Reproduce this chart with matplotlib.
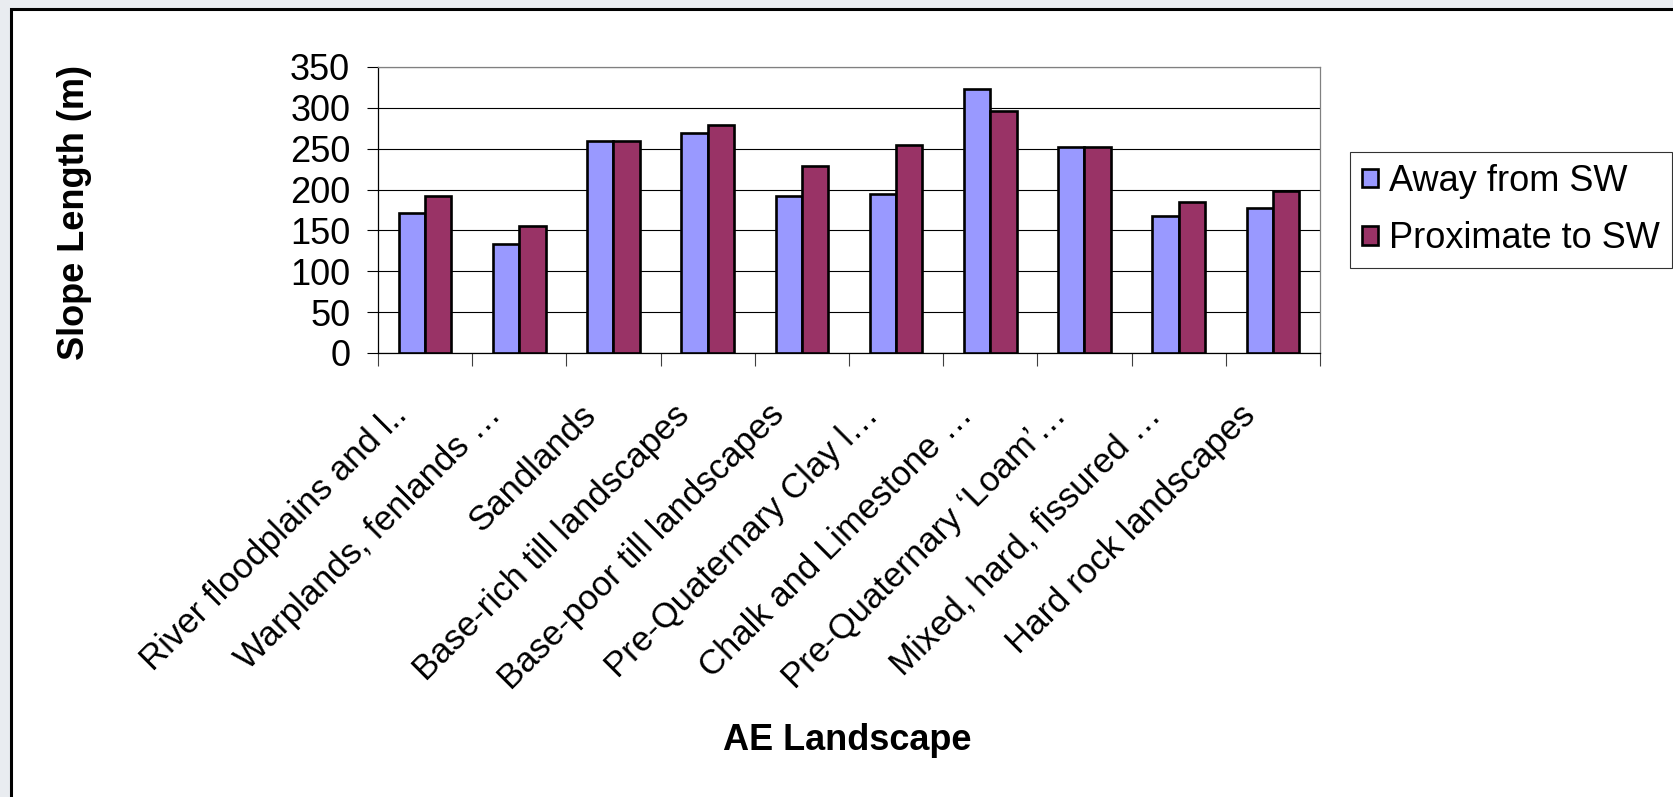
import matplotlib
matplotlib.use("Agg")
import matplotlib.pyplot as plt
from matplotlib.patches import Rectangle
from matplotlib.transforms import ScaledTranslation
import numpy as np

# landscape categories (as truncated in the original chart)
landscapes = [
    "River floodplains and l..",
    "Warplands, fenlands …",
    "Sandlands",
    "Base-rich till landscapes",
    "Base-poor till landscapes",
    "Pre-Quaternary Clay l…",
    "Chalk and Limestone …",
    "Pre-Quaternary \u2018Loam\u2019…",
    "Mixed, hard, fissured …",
    "Hard rock landscapes",
]

# slope lengths in metres
away_from_sw = [171, 134, 259, 269, 192, 195, 323, 252, 168, 178]
proximate_to_sw = [192, 155, 259, 279, 229, 255, 296, 252, 185, 198]

series_names = ["Away from SW", "Proximate to SW"]
y_ticks = [0, 50, 100, 150, 200, 250, 300, 350]

plt.rcParams['font.family'] = ['Liberation Sans', 'DejaVu Sans']

fig = plt.figure(figsize=(16.74, 7.97), dpi=100)
fig.patch.set_facecolor('#e9ecf0')

# white chart area with a thick black border (cut off at right and bottom)
frame = Rectangle((11.5 / 1674, -0.1), 1.2, 1.1 - 9 / 797,
                  transform=fig.transFigure, facecolor='white',
                  edgecolor='black', linewidth=2.2, zorder=-5)
fig.patches.append(frame)

ax = fig.add_axes([378 / 1674, 1 - 353 / 797, 942 / 1674, 286 / 797])
ax.set_facecolor('white')
ax.set_zorder(1)

x = np.arange(len(landscapes))
bar_w = 0.28
ax.bar(x - bar_w / 2, away_from_sw, bar_w, color='#9999ff',
       edgecolor='black', linewidth=1.9, label=series_names[0], zorder=3)
ax.bar(x + bar_w / 2, proximate_to_sw, bar_w, color='#993366',
       edgecolor='black', linewidth=1.9, label=series_names[1], zorder=3)

ax.set_xlim(-0.5, len(landscapes) - 0.5)
ax.set_ylim(0, 350)
ax.set_yticks(y_ticks)
ax.tick_params(axis='y', direction='out', length=8, width=0.8,
               pad=12, labelsize=26, color='black')
ax.yaxis.grid(True, color='black', linewidth=0.8, zorder=0)
ax.set_axisbelow(True)

# category labels at centres, tick marks at category boundaries
ax.set_xticks(x)
ax.set_xticklabels(landscapes, rotation=45, ha='right', va='center',
                   rotation_mode='anchor', fontsize=25)
ax.set_xticks(np.arange(len(landscapes) + 1) - 0.5, minor=True)
ax.tick_params(axis='x', which='major', length=0, pad=41)
ax.tick_params(axis='x', which='minor', length=9, width=0.8,
               color='#404040', direction='out')
shift = ScaledTranslation(-23 / 100, 0, fig.dpi_scale_trans)
for lbl in ax.get_xticklabels():
    lbl.set_transform(lbl.get_transform() + shift)

for side in ['top', 'right']:
    ax.spines[side].set_color('#808080')
for side in ['left', 'bottom']:
    ax.spines[side].set_color('black')
for s in ax.spines.values():
    s.set_linewidth(0.9)

fig.text(75 / 1674, 1 - 213 / 797, "Slope Length (m)", rotation=90,
         ha='center', va='center', fontsize=26, fontweight='bold')
fig.text(847 / 1674, 1 - 740 / 797, "AE Landscape",
         ha='center', va='center', fontsize=26, fontweight='bold')

leg = fig.legend(loc='upper left', bbox_to_anchor=(1350 / 1674, 1 - 152 / 797),
                 fontsize=26, frameon=True, fancybox=False, edgecolor='black',
                 handlelength=0.45, handleheight=0.4, handletextpad=0.3,
                 labelspacing=0.62, borderpad=0.33, borderaxespad=0)
leg.get_frame().set_linewidth(0.8)

fig.savefig('out.png', dpi=100, facecolor=fig.get_facecolor())
